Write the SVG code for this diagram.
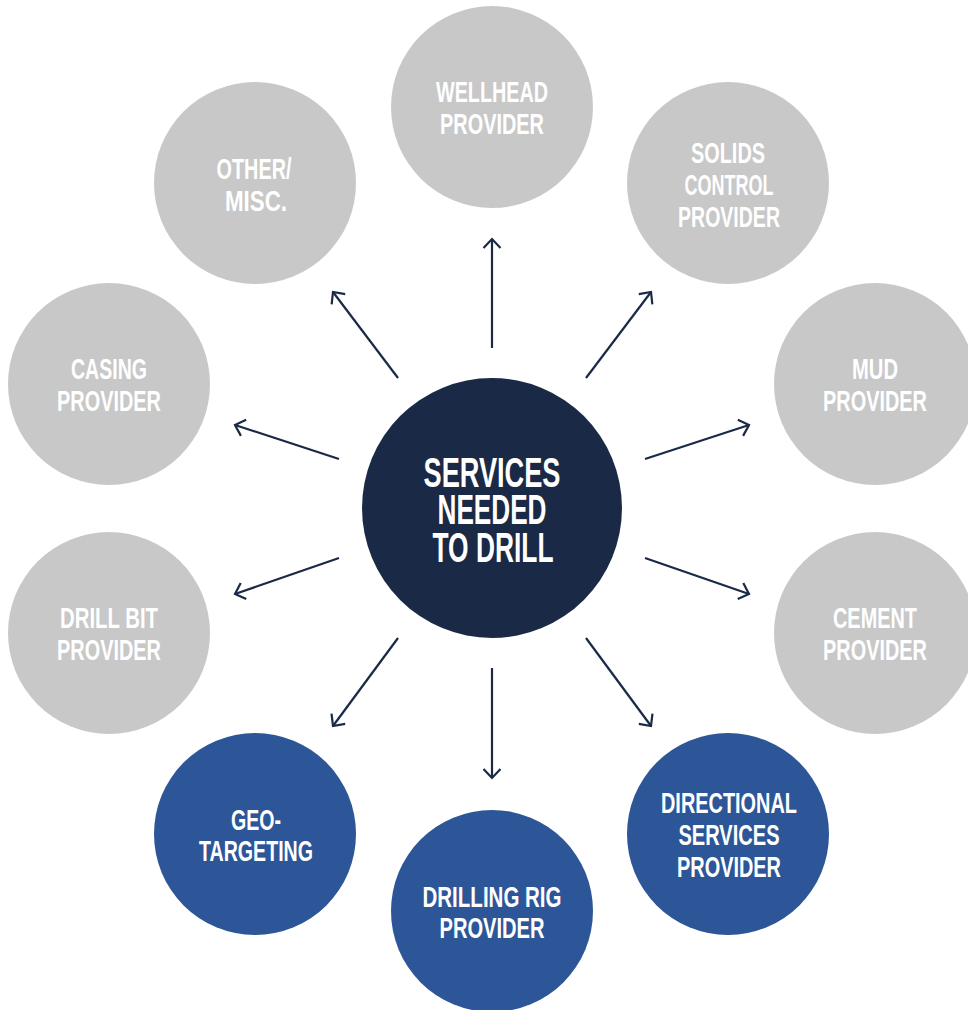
<svg xmlns="http://www.w3.org/2000/svg" width="968" height="1010" viewBox="0 0 968 1010">
<style>
.gray{fill:#c8c8c8}
.blue{fill:#2c5697}
.navy{fill:#1a2a46}
.t{font-family:"Liberation Sans Narrow","Liberation Sans",Arial,sans-serif;font-weight:bold;fill:#ffffff;text-anchor:middle;font-size:29px}
.tc{font-size:42px}
.conn line{stroke:#1a2a46;stroke-width:2.2;fill:none}
</style>
<defs>
<marker id="ah" markerUnits="userSpaceOnUse" markerWidth="24" markerHeight="24" viewBox="-14 -12 16 24" refX="0" refY="0" orient="auto">
<path d="M-9,-8.5 L0,0 L-9,8.5" fill="none" stroke="#1a2a46" stroke-width="2.2"/>
</marker>
</defs>
<rect width="968" height="1010" fill="#ffffff"/>
<g id="connectors" class="conn">
<line x1="492" y1="348" x2="492" y2="239" marker-end="url(#ah)"/>
<line x1="586" y1="378" x2="651" y2="292" marker-end="url(#ah)"/>
<line x1="645" y1="459" x2="749" y2="425" marker-end="url(#ah)"/>
<line x1="645" y1="558" x2="749" y2="594" marker-end="url(#ah)"/>
<line x1="586" y1="638" x2="651" y2="726" marker-end="url(#ah)"/>
<line x1="492" y1="668" x2="492" y2="778" marker-end="url(#ah)"/>
<line x1="398" y1="638" x2="333" y2="726" marker-end="url(#ah)"/>
<line x1="339" y1="558" x2="235" y2="594" marker-end="url(#ah)"/>
<line x1="339" y1="459" x2="235" y2="425" marker-end="url(#ah)"/>
<line x1="398" y1="378" x2="333" y2="292" marker-end="url(#ah)"/>
</g>
<g id="center">
<circle class="navy" cx="492" cy="508" r="130"/>
<text class="t tc" x="492" y="487" textLength="137" lengthAdjust="spacingAndGlyphs">SERVICES</text>
<text class="t tc" x="492" y="524" textLength="109" lengthAdjust="spacingAndGlyphs">NEEDED</text>
<text class="t tc" x="493" y="562" textLength="121" lengthAdjust="spacingAndGlyphs">TO DRILL</text>
</g>
<g id="wellhead">
<circle class="gray" cx="492" cy="107" r="101"/>
<text class="t" x="492" y="102" textLength="112" lengthAdjust="spacingAndGlyphs">WELLHEAD</text>
<text class="t" x="492" y="134" textLength="104" lengthAdjust="spacingAndGlyphs">PROVIDER</text>
</g>
<g id="solids">
<circle class="gray" cx="728" cy="183" r="101"/>
<text class="t" x="728" y="163" textLength="74" lengthAdjust="spacingAndGlyphs">SOLIDS</text>
<text class="t" x="729" y="195" textLength="89" lengthAdjust="spacingAndGlyphs">CONTROL</text>
<text class="t" x="729" y="227" textLength="102" lengthAdjust="spacingAndGlyphs">PROVIDER</text>
</g>
<g id="mud">
<circle class="gray" cx="875" cy="384" r="101"/>
<text class="t" x="875" y="379" textLength="46" lengthAdjust="spacingAndGlyphs">MUD</text>
<text class="t" x="875" y="411" textLength="104" lengthAdjust="spacingAndGlyphs">PROVIDER</text>
</g>
<g id="cement">
<circle class="gray" cx="875" cy="633" r="101"/>
<text class="t" x="875" y="628" textLength="84" lengthAdjust="spacingAndGlyphs">CEMENT</text>
<text class="t" x="875" y="660" textLength="104" lengthAdjust="spacingAndGlyphs">PROVIDER</text>
</g>
<g id="directional">
<circle class="blue" cx="728" cy="834" r="101"/>
<text class="t" x="729" y="813" textLength="136" lengthAdjust="spacingAndGlyphs">DIRECTIONAL</text>
<text class="t" x="729" y="845" textLength="101" lengthAdjust="spacingAndGlyphs">SERVICES</text>
<text class="t" x="729" y="877" textLength="104" lengthAdjust="spacingAndGlyphs">PROVIDER</text>
</g>
<g id="drillingrig">
<circle class="blue" cx="492" cy="911" r="101"/>
<text class="t" x="492" y="907" textLength="139" lengthAdjust="spacingAndGlyphs">DRILLING RIG</text>
<text class="t" x="492" y="938" textLength="105" lengthAdjust="spacingAndGlyphs">PROVIDER</text>
</g>
<g id="geotargeting">
<circle class="blue" cx="255" cy="834" r="101"/>
<text class="t" x="256" y="830" textLength="50" lengthAdjust="spacingAndGlyphs">GEO-</text>
<text class="t" x="256" y="861" textLength="114" lengthAdjust="spacingAndGlyphs">TARGETING</text>
</g>
<g id="drillbit">
<circle class="gray" cx="109" cy="633" r="101"/>
<text class="t" x="109" y="628" textLength="98" lengthAdjust="spacingAndGlyphs">DRILL BIT</text>
<text class="t" x="109" y="660" textLength="104" lengthAdjust="spacingAndGlyphs">PROVIDER</text>
</g>
<g id="casing">
<circle class="gray" cx="109" cy="384" r="101"/>
<text class="t" x="109" y="379" textLength="76" lengthAdjust="spacingAndGlyphs">CASING</text>
<text class="t" x="109" y="411" textLength="104" lengthAdjust="spacingAndGlyphs">PROVIDER</text>
</g>
<g id="other">
<circle class="gray" cx="255" cy="183" r="101"/>
<text class="t" x="254" y="179" textLength="75" lengthAdjust="spacingAndGlyphs">OTHER/</text>
<text class="t" x="256" y="211" textLength="62" lengthAdjust="spacingAndGlyphs">MISC.</text>
</g>
</svg>
